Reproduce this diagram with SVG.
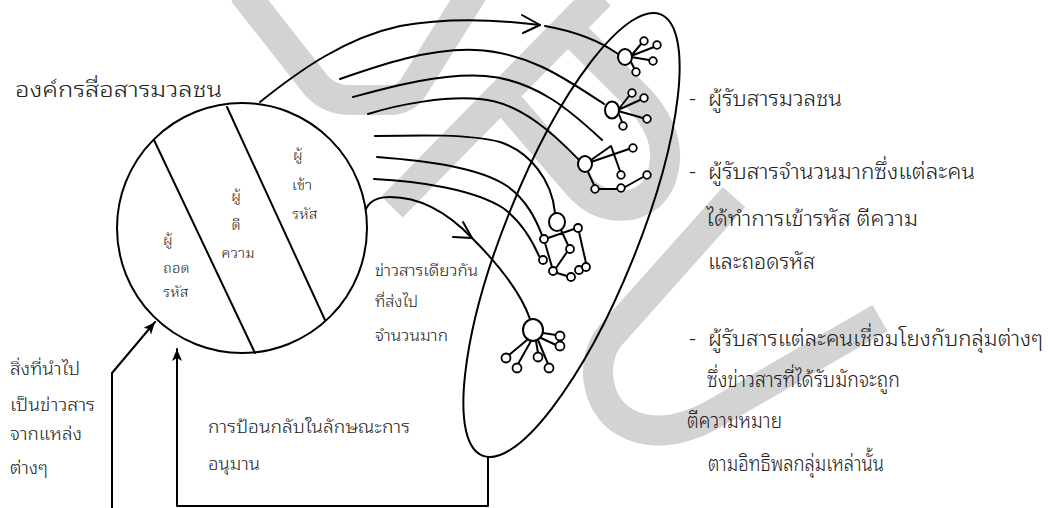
<svg xmlns="http://www.w3.org/2000/svg" width="1048" height="508" viewBox="0 0 1048 508">
<style>
.wm{fill:none;stroke:#d3d3d3;stroke-width:30;stroke-linejoin:round}
.ln{fill:none;stroke:#000;stroke-width:2;stroke-linecap:round;stroke-linejoin:round}
.nd{fill:#fff;stroke:#000;stroke-width:2}
.sm{fill:#fff;stroke:#000;stroke-width:1.8}
.t{font-family:'Noto Sans Thai Looped','Loma','Garuda','Noto Sans Thai','Noto Sans','DejaVu Sans',sans-serif;font-weight:300;fill:#222}
.ts{font-family:'Norasi','Noto Serif Thai','Noto Sans Thai Looped','Noto Sans Thai','Noto Serif',serif;font-weight:300;fill:#222;font-size:15px}
</style>
<defs>
<marker id="fa" markerUnits="userSpaceOnUse" markerWidth="14" markerHeight="12" refX="12" refY="5" orient="auto">
<path d="M0,0 L12,5 L0,10 L3,5 z" fill="#000"/>
</marker>
</defs>
<rect width="1048" height="508" fill="#fff"/>
<g id="watermark">
<path class="wm" d="M243,-8 L312,80 Q326,100 350,100 L390,100 Q405,100 413,88 L473,-8"/>
<path class="wm" d="M392,207 L600,-5"/>
<path class="wm" d="M505,100 L578,185 Q600,210 630,205 Q662,198 665,160 Q667,130 640,100 L575,35"/>
<path class="wm" d="M734,197 L610,336 C590,360 595,405 625,422 C650,436 680,432 712,415 L880,318"/>
</g>
<g id="connectors">
<path class="ln" d="M260,102 C300,70 345,38 400,26 C450,17 500,20 540,25"/>
<polyline class="ln" points="522,15 540,25 523,33"/>
<path class="ln" d="M545,26 Q590,34 618,54"/>
<path class="ln" d="M340,79 C380,65 430,48 475,50 C530,52 570,82 604,104"/>
<path class="ln" d="M353,97 C390,87 440,73 485,76 C535,80 570,110 602,140"/>
<path class="ln" d="M368,114 C400,104 445,96 480,99 C520,102 555,135 579,160"/>
<path class="ln" d="M375,136 C420,135 470,134 500,142 C530,152 552,180 555,213"/>
<path class="ln" d="M377,157 C430,161 480,168 507,186 C527,200 536,220 542,235"/>
<path class="ln" d="M374,179 C420,181 475,190 503,208 C522,222 532,240 539,256"/>
<path class="ln" d="M363,219 C365,205 372,197 390,197 C420,197 448,213 472,238 C492,258 520,290 530,319"/>
<polyline class="ln" points="463,222 472,238 453,237"/>
<polyline class="ln" points="112,508 112,373 155,322" marker-end="url(#fa)"/>
<polyline class="ln" points="488,457 488,506 177,506 177,349" marker-end="url(#fa)"/>
</g>
<g id="org">
<circle class="nd" cx="242" cy="228" r="125"/>
<line class="ln" x1="154" y1="140" x2="255" y2="353"/>
<line class="ln" x1="227" y1="107" x2="325" y2="320"/>
<text class="ts"><tspan x="163" y="245">ผู้</tspan><tspan x="163" y="273">ถอด</tspan><tspan x="163" y="297">รหัส</tspan></text>
<text class="ts" text-anchor="middle"><tspan x="236" y="201">ผู้</tspan><tspan x="236" y="230">ตี</tspan><tspan x="238" y="258">ความ</tspan></text>
<text class="ts"><tspan x="293" y="160">ผู้</tspan><tspan x="292" y="190">เข้า</tspan><tspan x="292" y="219">รหัส</tspan></text>
</g>
<g id="audience">
<ellipse cx="571.5" cy="235" rx="238" ry="66" transform="rotate(-68 571.5 235)" fill="none" stroke="#000" stroke-width="2"/>
</g>
<g id="cluster1">
<path class="ln" d="M631,56 L641,44 M631,56 L654,47 M631,57 L649,60 M630,60 L634,68"/>
<ellipse class="nd" cx="625" cy="57" rx="7" ry="8"/>
<circle class="sm" cx="644" cy="41" r="3.8"/><circle class="sm" cx="657" cy="45" r="3.8"/><circle class="sm" cx="653" cy="61" r="3.8"/><circle class="sm" cx="636" cy="72" r="3.8"/>
</g>
<g id="cluster2">
<path class="ln" d="M618,110 L629,96 M618,110 L640,100 M618,111 L643,118 M618,112 L622,122"/>
<ellipse class="nd" cx="612" cy="110" rx="7" ry="8.5"/>
<circle class="sm" cx="632" cy="93" r="3.8"/><circle class="sm" cx="644" cy="98" r="3.8"/><circle class="sm" cx="647" cy="119" r="3.8"/><circle class="sm" cx="623" cy="126" r="3.8"/>
</g>
<g id="cluster3">
<path class="ln" d="M591,160 L611,146 L620,171 M591,162 L629,149 M588,172 L594,185 M599,189 L617,189 M625,187 L643,177"/>
<ellipse class="nd" cx="585" cy="164" rx="7" ry="8"/>
<circle class="sm" cx="633" cy="148" r="3.8"/><circle class="sm" cx="621" cy="175" r="3.8"/><circle class="sm" cx="595" cy="189" r="3.8"/><circle class="sm" cx="621" cy="188" r="3.8"/><circle class="sm" cx="647" cy="175" r="3.8"/>
</g>
<g id="cluster4">
<path class="ln" d="M548,238 L574,229 M579,232 L586,263 M545,243 L552,267 M557,273 L567,276 M561,230 L568,245 M567,252 L556,268"/>
<ellipse class="nd" cx="557" cy="222" rx="8" ry="9"/>
<circle class="sm" cx="578" cy="228" r="4"/><circle class="sm" cx="544" cy="239" r="4"/><circle class="sm" cx="570" cy="249" r="4"/><circle class="sm" cx="543" cy="260" r="4"/><circle class="sm" cx="553" cy="271" r="4"/><circle class="sm" cx="571" cy="277" r="4"/><circle class="sm" cx="579" cy="270" r="4"/><circle class="sm" cx="586" cy="267" r="4"/>
</g>
<g id="cluster5">
<path class="ln" d="M527,340 L509,355 M531,341 L518,364 M538,340 L548,364 M536,341 L538,353 M543,333 L556,335 M541,338 L556,345"/>
<ellipse class="nd" cx="533" cy="330" rx="10" ry="11"/>
<circle class="sm" cx="506" cy="358" r="4.5"/><circle class="sm" cx="517" cy="368" r="4.5"/><circle class="sm" cx="538" cy="357" r="4.5"/><circle class="sm" cx="549" cy="368" r="4.5"/><circle class="sm" cx="560" cy="336" r="4.5"/><circle class="sm" cx="560" cy="346" r="4.5"/>
</g>
<g id="labels">
<text class="t" x="15" y="97" font-size="21" textLength="207" lengthAdjust="spacingAndGlyphs">องค์กรสื่อสารมวลชน</text>
<text class="t" font-size="17"><tspan x="10" y="375" textLength="70" lengthAdjust="spacingAndGlyphs">สิ่งที่นำไป</tspan><tspan x="10" y="411" textLength="85" lengthAdjust="spacingAndGlyphs">เป็นข่าวสาร</tspan><tspan x="10" y="440" textLength="72" lengthAdjust="spacingAndGlyphs">จากแหล่ง</tspan><tspan x="10" y="474" textLength="38" lengthAdjust="spacingAndGlyphs">ต่างๆ</tspan></text>
<text class="t" x="208" y="433" font-size="17" textLength="202" lengthAdjust="spacingAndGlyphs">การป้อนกลับในลักษณะการ</text>
<text class="t" x="208" y="470" font-size="17" textLength="52" lengthAdjust="spacingAndGlyphs">อนุมาน</text>
<text class="t" font-size="15"><tspan x="375" y="276" textLength="103" lengthAdjust="spacingAndGlyphs">ข่าวสารเดียวกัน</tspan><tspan x="375" y="307" textLength="43" lengthAdjust="spacingAndGlyphs">ที่ส่งไป</tspan><tspan x="375" y="341" textLength="73" lengthAdjust="spacingAndGlyphs">จำนวนมาก</tspan></text>
<text class="t" font-size="22"><tspan x="689" y="106">-</tspan><tspan x="708" y="106" textLength="134" lengthAdjust="spacingAndGlyphs">ผู้รับสารมวลชน</tspan></text>
<text class="t" font-size="22"><tspan x="689" y="179">-</tspan><tspan x="708" y="179" textLength="267" lengthAdjust="spacingAndGlyphs">ผู้รับสารจำนวนมากซึ่งแต่ละคน</tspan></text>
<text class="t" x="706" y="226" font-size="22" textLength="212" lengthAdjust="spacingAndGlyphs">ได้ทำการเข้ารหัส ตีความ</text>
<text class="t" x="708" y="269" font-size="22" textLength="107" lengthAdjust="spacingAndGlyphs">และถอดรหัส</text>
<text class="t" font-size="22"><tspan x="689" y="346">-</tspan><tspan x="708" y="346" textLength="335" lengthAdjust="spacingAndGlyphs">ผู้รับสารแต่ละคนเชื่อมโยงกับกลุ่มต่างๆ</tspan></text>
<text class="t" x="707" y="387" font-size="22" textLength="193" lengthAdjust="spacingAndGlyphs">ซึ่งข่าวสารที่ได้รับมักจะถูก</text>
<text class="t" x="687" y="428" font-size="22" textLength="95" lengthAdjust="spacingAndGlyphs">ตีความหมาย</text>
<text class="t" x="708" y="471" font-size="22" textLength="176" lengthAdjust="spacingAndGlyphs">ตามอิทธิพลกลุ่มเหล่านั้น</text>
</g>
</svg>
